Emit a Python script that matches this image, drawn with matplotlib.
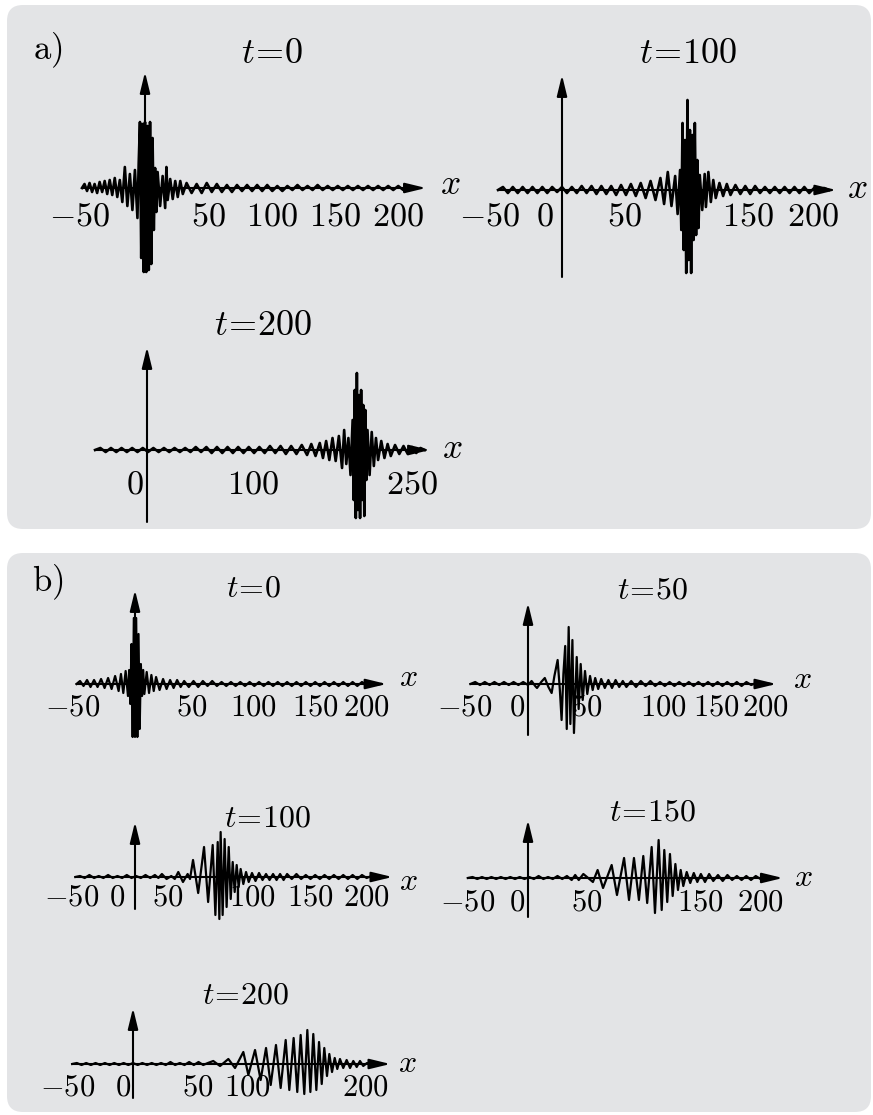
import matplotlib
matplotlib.use('Agg')
import matplotlib.pyplot as plt
from matplotlib.patches import FancyBboxPatch
from matplotlib.transforms import IdentityTransform

plt.rcParams['mathtext.fontset'] = 'cm'
plt.rcParams['font.family'] = 'serif'

W, H = 873, 1115
BG = '#e3e4e6'

# ---- wave data (x in x-units, y in amplitude px, up = +)
a0_x = [-50, -48, -46, -44, -42, -40, -38, -36, -34, -32, -30, -28, -26, -24, -22, -20,
        -18, -16, -14, -12, -10, -8, -6, -5, -4, -3, -2, -1, 0, 1, 2, 3, 4, 5, 6, 7, 8, 9,
        10, 12, 14, 16, 17, 18, 20, 22, 24, 26, 28, 30,
        33, 37, 41, 45, 49, 53, 57, 61, 65, 69, 73, 77, 81, 85, 89, 93, 97, 101, 105, 109,
        113, 117, 121, 125, 129, 133, 137, 141, 145, 149, 153, 157, 161, 165, 169, 173,
        177, 181, 185, 189, 193, 197, 201, 205, 209, 213]
a0_y = [0, 4, -3, 5, -4, 4, -5, 6, -4, 7, -6, 8, -7, 10, -9, 8,
        -14, 21, -18, 14, -22, 18, -30, 25, 66, -70, 64, -84, 66, -84, 62, -82, 66, -76, 50, -42, 20, -24,
        16, -18, 12, -20, 21, -12, 9, -11, 7, -9, 7, -6,
        5, -5, 4, -5, 5, -4, 4, -4, 3, -4, 3, -3, 3, -3, 3, -3, 3, -3, 2, -3,
        2, -2, 3, -2, 2, -2, 3, -2, 2, -2, 2, -2, 2, -2, 2, -2,
        2, -2, 2, -2, 2, -2, 2, -2, 2, 0]

a100_x = [-52, -48, -44, -40, -36, -32, -28, -24, -20, -16, -12, -8, -4, 0, 4, 8, 12, 16, 20,
          24, 28, 32, 36, 40, 44, 48, 52, 56, 60, 64, 68, 72, 76, 80, 83, 86, 89, 92, 94, 96,
          97, 98, 99, 100, 101, 102, 103, 104, 105, 106, 107, 108, 109, 110, 111, 112, 114,
          116, 117, 119, 121, 123, 125, 128, 131, 134, 137, 141, 145, 149, 153, 157, 161,
          165, 169, 173, 177, 181, 185, 189, 193, 197, 201, 205, 209, 213, 217]
a100_y = [0, 3, -3, 3, -3, 3, -3, 3, -3, 3, -3, 3, -2, 3, -3, 3, -3, 4, -3,
          4, -4, 4, -4, 4, -5, 5, -5, 6, -6, 7, -8, 9, -10, 12, -14, 18, -16, 14, -24, 20,
          -40, 67, -60, 50, -83, 90, -70, 60, -83, 55, -50, 67, -45, 30, -38, 15, -20,
          16, -17, 18, -12, 10, -8, 7, -6, 6, -5, 5, -4, 4, -4, 4, -3,
          3, -3, 3, -3, 3, -3, 3, -3, 3, -3, 2, -2, 2, 0]

a200_x = [-49, -44, -39, -34, -29, -24, -19, -14, -9, -4, 1, 6, 11, 16, 21, 26, 31, 36, 41,
          46, 51, 56, 61, 66, 71, 76, 81, 86, 91, 96, 101, 106, 111, 116, 121, 126, 131,
          136, 141, 146, 151, 155, 159, 163, 166, 169, 172, 175, 178, 181, 184, 186, 188,
          190, 192, 194, 195, 196, 197, 198, 199, 200, 201, 202, 203, 204, 205, 206, 207,
          208, 210, 212, 214, 216, 218, 221, 224, 227, 230, 234, 238, 242, 246, 250, 254,
          258, 262]
a200_y = [0, 2, -2, 2, -2, 2, -2, 2, -2, 2, -2, 2, -2, 2, -2, 2, -2, 2, -2,
          3, -2, 3, -3, 3, -3, 3, -3, 3, -3, 3, -3, 3, -3, 4, -3, 4, -4,
          4, -4, 5, -5, 6, -6, 7, -8, 9, -10, 12, -11, 14, -18, 20, -14,
          12, -25, 30, -50, 60, -68, 77, -60, 55, -68, 60, -50, 45, -66, 40, -30,
          20, -25, 18, -16, 12, -10, 9, -8, 6, -6, 5, -4, 4, -4, 3, -3,
          2, 0]

b0_x = [-50, -47, -44, -41, -38, -35, -32, -29, -26, -23, -20, -17, -14, -12, -10, -8, -6,
        -5, -4, -3, -2, -1, 0, 1, 2, 3, 4, 5, 6, 7, 8, 10, 12, 14, 16, 18, 21, 24, 27, 30,
        33, 36, 39, 42, 46, 50, 54, 58, 62, 66, 70, 74, 78, 82, 86, 90, 94, 98, 102, 106,
        110, 114, 118, 122, 126, 130, 134, 138, 142, 146, 150, 154, 158, 162, 166, 170,
        174, 178, 182, 186, 190, 194, 198, 202, 206, 210]
b0_y = [0, 3, -2, 4, -3, 4, -3, 5, -4, 6, -5, 8, -7, 10, -9, 13, -12,
        14, -20, 40, -53, 66, -50, 66, -53, 50, -45, 20, -12, 14, -10, 12, -9, 9, -7, 7, -6, 5, -5, 4,
        -4, 4, -3, 3, -3, 3, -3, 3, -2, 3, -2, 2, -2, 2, -2, 2, -2, 2, -2, 2,
        -2, 2, -2, 2, -2, 2, -2, 2, -2, 2, -2, 2, -2, 2, -2, 2,
        -2, 2, -2, 2, -2, 2, -1, 1, -1, 0]

b50_x = [-48, -44, -40, -36, -32, -28, -24, -20, -16, -12, -8, -4, 0, 3, 6, 7.5, 11, 14, 17,
         19.7, 22, 24.7, 26.5, 28, 29.5, 31, 32.3, 33.9, 35.3, 37, 38.3, 40.6, 42.2, 43.9,
         45.6, 47.5, 49.4, 51.7, 53.9, 56, 58.5, 61, 64, 67, 70, 73, 76, 79, 82, 86, 90, 94,
         98, 102, 106, 110, 114, 118, 122, 126, 130, 134, 138, 142, 146, 150, 154, 158, 162,
         166, 170, 174, 178, 182, 186, 190, 194, 198, 202]
b50_y = [0, 2, -1, 2, -1, 2, -1, 2, -1, 2, -1, 2, -1, 3, -2, -4, 2, 6, -3,
         -9, 8, 24, -5, -36, 10, 38, -45, 57, -40, 44, -49, 27, -25, 20,
         -16, 13, -10, 8, -6, 6, -5, 5, -4, 4, -4, 4, -3, 3, -3, 3, -3, 3,
         -2, 3, -2, 2, -2, 2, -2, 2, -2, 2, -2, 2, -2, 2, -2, 2, -2,
         2, -2, 2, -2, 2, -1, 1, -1, 1, 0]

b100_x = [-51, -47, -43, -39, -35, -31, -27, -23, -19, -15, -11, -7, -3, 1, 5, 9, 13, 17, 20,
          23, 27, 31, 34, 37, 41, 45, 47, 49.6, 54, 59, 62.5, 66.4, 68.7, 70.7, 72.1, 73.2,
          74.9, 76.6, 78.3, 80.1, 81.8, 83.5, 85.2, 86.9, 88.6, 90.3, 92.6, 94.9, 97.2, 100,
          103, 106, 109, 112, 115, 118, 121, 124, 127, 130, 134, 138, 142, 146, 150, 154,
          158, 162, 166, 170, 174, 178, 182, 186, 190, 194, 198, 202, 206, 210, 214]
b100_y = [0, 1, -1, 2, -1, 1, -1, 2, -1, 1, -1, 2, -1, 1, -1, 2, -1, 2, -1,
          3, -2, 1, -2, 5, -5, 3, -2, 17, -16, 30, -25, 32, -38, 35, -42, 45,
          -38, 38, -30, 30, -22, 15, -15, 12, -10, 8, -7, 5, -5, 4,
          -4, 4, -3, 3, -3, 3, -3, 3, -3, 3, -2, 3, -2, 2, -2, 2,
          -2, 2, -2, 2, -2, 2, -2, 2, -2, 2, -1, 1, -1, 1, 0]

b150_x = [-51, -47, -43, -39, -35, -31, -27, -23, -19, -15, -11, -7, -3, 1, 5, 9, 13, 17, 21,
          25, 29, 33, 37, 40, 43, 46.9, 51, 55, 59, 63.6, 70.9, 75.4, 81.4, 85.6, 89.8, 94,
          97.7, 101, 104.8, 107.6, 110.7, 113.3, 115.5, 118, 120.3, 122.6, 124.9, 127.1,
          129.4, 131.6, 134.5, 137.5, 140.5, 143.5, 146.5, 150, 153.5, 157, 161, 165, 169,
          173, 177, 181, 185, 189, 193, 197, 201, 205, 209]
b150_y = [0, 1, -1, 1, -1, 1, -1, 1, -1, 1, -1, 1, -1, 1, -1, 2, -1, 1, -1,
          2, -1, 2, -2, 3, -2, 4, 0, -4, 8, -10, 13, -17, 20, -22, 20, -22,
          22, -25, 31, -35, 38, -32, 28, -24, 24, -18, 14, -12,
          8, -8, 6, -5, 5, -4, 4, -4, 4, -3, 3, -3, 3,
          -2, 2, -2, 2, -2, 2, -1, 1, -1, 0]

b200_x = [-52, -48, -44, -40, -36, -32, -28, -24, -20, -16, -12, -8, -4, 0, 4, 8, 12, 16, 20,
          24, 28, 32, 36, 40, 44, 48, 52, 56, 60, 64, 68.6, 74.4, 81.5, 87.2, 94.3, 98.6,
          104.3, 109.1, 113.7, 117.7, 122.2, 126.2, 130.5, 133.6, 137.3, 140.4, 143.3, 146.4,
          149, 151.6, 154.1, 156.7, 159, 161.3, 163.5, 165.8, 167.8, 170.1, 172.4, 174.6,
          176.9, 179.7, 182.6, 185.5, 188.3, 191.2, 194, 196.8, 200, 204, 212]
b200_y = [0, 1, -1, 1, -1, 1, -1, 1, -1, 1, -1, 1, -1, 1, -1, 1, -1, 1, -1,
          1, -1, 2, -1, 1, -1, 2, -1, 2, -1, 1, 3, -2, 5, -4, 12, -11,
          14, -16, 16, -21, 19, -24, 24, -26, 26, -28, 29, -30,
          34, -28, 30, -26, 22, -20, 16, -12, 10, -8, 6, -5,
          5, -4, 4, -4, 3, -3, 3, -2, 1, 0, 0]

# tick label texts and their x positions (in x-units)
a0_labels = ['-50', '50', '100', '150', '200']
a0_lpos = [-51.6, 50, 100.8, 150.8, 200.8]
a100_labels = ['-50', '0', '50', '150', '200']
a100_lpos = [-58.5, -13.8, 51, 151, 204]
a200_labels = ['0', '100', '250']
a200_lpos = [-11.3, 100, 250]
b0_labels = ['-50', '50', '100', '150', '200']
b0_lpos = [-53, 48.7, 100.9, 154, 198]
b50_labels = ['-50', '0', '50', '100', '150', '200']
b50_lpos = [-53, -9, 49, 113, 157, 198]
b100_labels = ['-50', '0', '50', '100', '150', '200']
b100_lpos = [-54, -15, 28, 100, 150, 198]
b150_labels = ['-50', '0', '50', '150', '200']
b150_lpos = [-51, -9, 50, 146, 197]
b200_labels = ['-50', '0', '50', '100', '200']
b200_lpos = [-56, -8.5, 55, 98, 199]

times_a = ['0', '100', '200']
times_b = ['0', '50', '100', '150', '200']

fig = plt.figure(figsize=(W / 100, H / 100), dpi=100)
fig.patch.set_facecolor('white')

# grey rounded boxes (pixel coords, y from the bottom)
for top, bot in [(5, 529), (553, 1112)]:
    box = FancyBboxPatch((7, H - bot), 864, bot - top,
                         boxstyle='round,pad=0,rounding_size=16',
                         transform=IdentityTransform(), facecolor=BG,
                         edgecolor='none', zorder=-10)
    fig.patches.append(box)


def panel(xs, ys, ox, oy, s, x_lo, x_hi, y_top, y_bot, t, title_px, labels, lpos,
          lab_dy, xlab_px, fs_lab, fs_title, lw):
    xmin, xmax = -80, 300
    ymin, ymax = -110, 150
    left = ox + xmin * s
    ax = fig.add_axes([left / W, 1 - (oy - ymin) / H,
                       (xmax - xmin) * s / W, (ymax - ymin) / H])
    ax.set_zorder(5)
    ax.set_xlim(xmin, xmax)
    ax.set_ylim(ymin, ymax)
    ax.axis('off')
    ax.patch.set_alpha(0)
    arr = dict(arrowstyle='-|>,head_length=0.7,head_width=0.17', lw=1.5,
               color='k', shrinkA=0, shrinkB=0, mutation_scale=18)
    ax.annotate('', xy=(x_hi, 0), xytext=(x_lo, 0), arrowprops=arr)
    ax.annotate('', xy=(0, oy - y_top), xytext=(0, oy - y_bot), arrowprops=arr)
    ax.plot(xs, ys, color='k', lw=lw, zorder=3)
    for lab, p in zip(labels, lpos):
        ax.text(p, -lab_dy, '$' + lab + '$', ha='center', va='center',
                fontsize=fs_lab, clip_on=False)
    ax.text((title_px[0] - ox) / s, oy - title_px[1], r'$t\!=\!' + t + '$',
            ha='center', va='center', fontsize=fs_title, clip_on=False)
    ax.text((xlab_px[0] - ox) / s, oy - xlab_px[1], '$x$', ha='center',
            va='center', fontsize=fs_lab + 1, clip_on=False)
    return ax


# panel a
panel(a0_x, a0_y, 145, 188, 1.26, -50, 223, 72, 272, times_a[0], (272, 53),
      a0_labels, a0_lpos, 29, (450, 184), 24.5, 26, 1.9)
panel(a100_x, a100_y, 562, 190, 1.23, -52, 223, 75, 277, times_a[1], (688, 53),
      a100_labels, a100_lpos, 27, (857, 188), 24.5, 26, 1.9)
panel(a200_x, a200_y, 147, 450, 1.06, -49, 267, 347, 522, times_a[2], (263, 325),
      a200_labels, a200_lpos, 35, (452, 448), 24.5, 26, 1.9)

# panel b
panel(b0_x, b0_y, 135, 684, 1.17, -50, 215, 590, 737, times_b[0], (253, 588),
      b0_labels, b0_lpos, 23, (408, 678), 22, 23, 1.6)
panel(b50_x, b50_y, 528, 684, 1.2, -48, 207, 603, 735, times_b[1], (652, 590),
      b50_labels, b50_lpos, 23, (802, 680), 22, 23, 1.6)
panel(b100_x, b100_y, 135, 877, 1.17, -51, 220, 822, 909, times_b[2], (267, 818),
      b100_labels, b100_lpos, 20, (408, 882), 22, 23, 1.6)
panel(b150_x, b150_y, 528, 878, 1.18, -51, 216, 820, 917, times_b[3], (652, 812),
      b150_labels, b150_lpos, 24, (803, 877), 22, 23, 1.6)
panel(b200_x, b200_y, 133, 1064, 1.17, -52, 220, 1008, 1098, times_b[4], (245, 995),
      b200_labels, b200_lpos, 23, (407, 1063), 22, 23, 1.6)

fig.text(48 / W, 1 - 50 / H, r'$\mathrm{a)}$', ha='center', va='center', fontsize=25)
fig.text(48 / W, 1 - 582 / H, r'$\mathrm{b)}$', ha='center', va='center', fontsize=25)

fig.savefig('out.png', dpi=100, facecolor='white')
